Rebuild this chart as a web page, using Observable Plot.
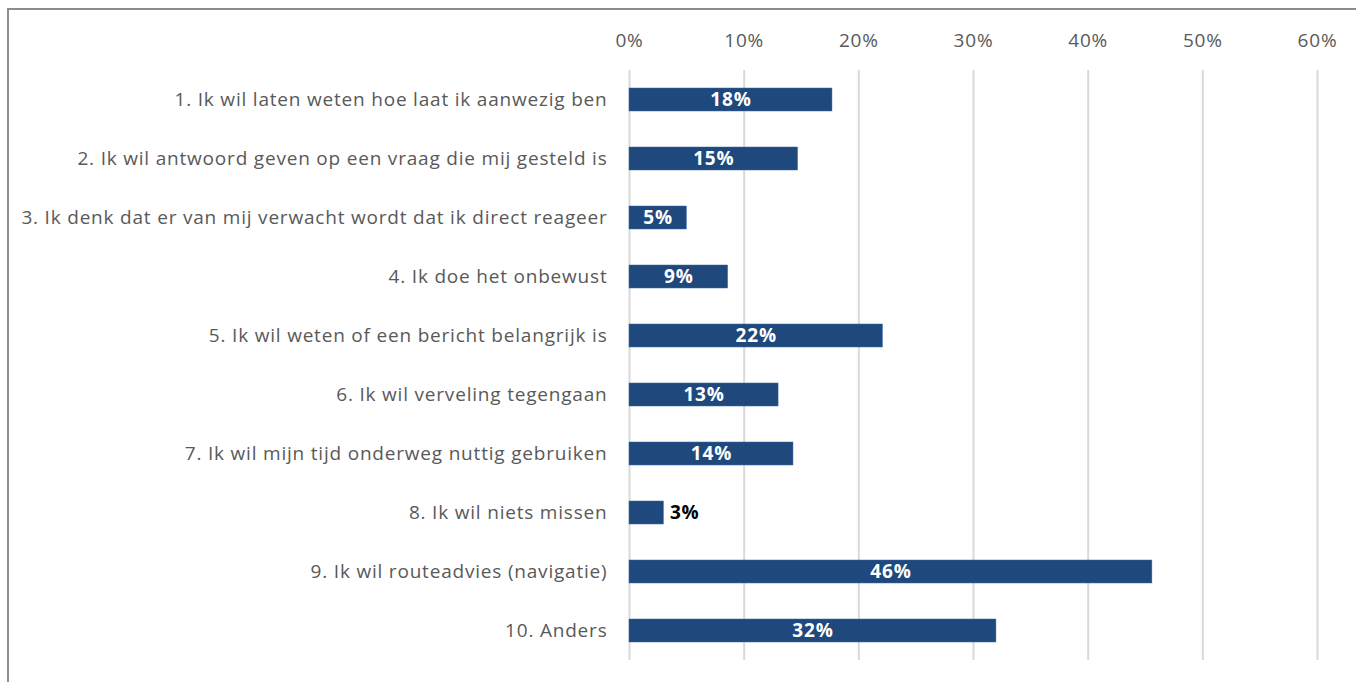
<!DOCTYPE html>
<html>
<head>
<meta charset="utf-8">
<script src="https://cdn.jsdelivr.net/npm/d3@7"></script>
<script src="https://cdn.jsdelivr.net/npm/@observablehq/plot@0.6"></script>
<style>
  html, body { margin: 0; padding: 0; background: #fff; }
  #wrap { position: relative; width: 1356px; height: 682px; overflow: hidden; }
  #frame { position: absolute; left: 7px; top: 8px; width: 1400px; height: 700px;
           border-left: 2px solid #8c8c8c; border-top: 2px solid #8c8c8c; pointer-events: none; }
  svg { font-family: "Open Sans", Lato, sans-serif; }
  svg text { letter-spacing: 0.8px; }
</style>
</head>
<body>
<div id="wrap"><div id="frame"></div></div>
<script>
const categories = [
  "1. Ik wil laten weten hoe laat ik aanwezig ben",
  "2. Ik wil antwoord geven op een vraag die mij gesteld is",
  "3. Ik denk dat er van mij verwacht wordt dat ik direct reageer",
  "4. Ik doe het onbewust",
  "5. Ik wil weten of een bericht belangrijk is",
  "6. Ik wil verveling tegengaan",
  "7. Ik wil mijn tijd onderweg nuttig gebruiken",
  "8. Ik wil niets missen",
  "9. Ik wil routeadvies (navigatie)",
  "10. Anders"
];
const values = [17.7, 14.7, 5.0, 8.6, 22.1, 13.0, 14.3, 3.0, 45.6, 32.0];
const labels = ["18%", "15%", "5%", "9%", "22%", "13%", "14%", "3%", "46%", "32%"];
const xTicks = [0, 10, 20, 30, 40, 50, 60];

const data = categories.map((c, i) => ({category: c, value: values[i], label: labels[i]}));
const inside = data.filter(d => d.value >= 4);
const outside = data.filter(d => d.value < 4);

const chart = Plot.plot({
  width: 1356,
  height: 682,
  marginLeft: 629,
  marginRight: 39,
  marginTop: 70,
  marginBottom: 22,
  style: {fontSize: "19px", color: "#595959", background: "transparent"},
  x: {domain: [0, 60], ticks: xTicks},
  y: {domain: categories, paddingInner: 0.612, paddingOuter: 0.278},
  marks: [
    Plot.ruleX(xTicks, {stroke: "#d9d9d9", strokeWidth: 2}),
    Plot.axisX(xTicks, {anchor: "top", tickSize: 0, tickPadding: 24, tickFormat: d => d + "%", fill: "#595959", fontSize: 19, label: null}),
    Plot.axisY({anchor: "left", tickSize: 0, tickPadding: 22, fill: "#595959", fontSize: 19, label: null}),
    Plot.barX(data, {x: "value", y: "category", fill: "#1f497d", stroke: "#3f6aa0", strokeWidth: 0.5}),
    Plot.text(inside, {x: d => d.value / 2, y: "category", text: "label", fill: "white", fontWeight: "bold", fontSize: 19}),
    Plot.text(outside, {x: "value", y: "category", text: "label", fill: "black", fontWeight: "bold", fontSize: 19, textAnchor: "start", dx: 6})
  ]
});
document.getElementById("wrap").insertBefore(chart, document.getElementById("frame"));
</script>
</body>
</html>
